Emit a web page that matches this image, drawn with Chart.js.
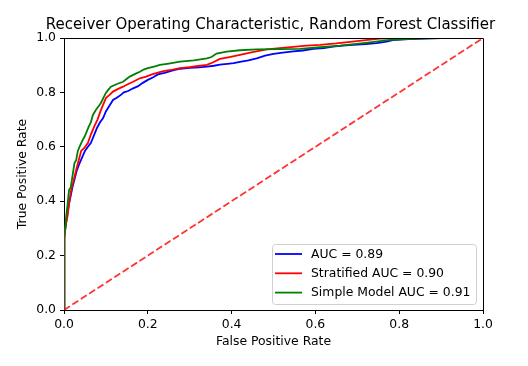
<!DOCTYPE html>
<html lang="en">
<head>
    <meta charset="UTF-8">
    <title>ROC - Random Forest Classifier</title>
    <script src="https://cdn.jsdelivr.net/npm/chart.js"></script>
    <style>
        body { margin: 0; background: #fff; }
        #wrap { width: 528px; height: 366px; }
    </style>
</head>
<body>
    <div id="wrap"><canvas id="rocChart" width="528" height="366"></canvas></div>

    <script>
        // ROC curve points (false positive rate / true positive rate)
        const baseFpr = [0, 0, 0.002, 0.004, 0.006, 0.009, 0.012, 0.016, 0.020, 0.025, 0.030, 0.036, 0.043, 0.050, 0.057, 0.064, 0.071, 0.079, 0.086, 0.093, 0.100, 0.108, 0.117, 0.126, 0.135, 0.143, 0.153, 0.165, 0.177, 0.188, 0.200, 0.212, 0.224, 0.240, 0.258, 0.277, 0.300, 0.322, 0.341, 0.358, 0.372, 0.390, 0.405, 0.420, 0.440, 0.460, 0.480, 0.500, 0.522, 0.547, 0.570, 0.595, 0.620, 0.642, 0.665, 0.690, 0.720, 0.746, 0.770, 0.785, 0.810, 0.840, 0.870, 0.900, 0.950, 1.0];
        const baseTpr = [0, 0.13, 0.27, 0.31, 0.33, 0.36, 0.39, 0.42, 0.45, 0.48, 0.51, 0.535, 0.56, 0.585, 0.60, 0.614, 0.64, 0.67, 0.69, 0.705, 0.73, 0.75, 0.772, 0.78, 0.79, 0.80, 0.805, 0.815, 0.823, 0.835, 0.846, 0.855, 0.866, 0.872, 0.88, 0.887, 0.89, 0.892, 0.895, 0.898, 0.902, 0.905, 0.908, 0.912, 0.918, 0.925, 0.935, 0.942, 0.946, 0.951, 0.954, 0.96, 0.963, 0.968, 0.972, 0.975, 0.978, 0.981, 0.987, 0.992, 0.995, 0.997, 0.999, 1.0, 1.0, 1.0];

        const stratFpr = [0, 0.001, 0.003, 0.005, 0.008, 0.012, 0.017, 0.022, 0.029, 0.035, 0.041, 0.048, 0.057, 0.064, 0.072, 0.080, 0.088, 0.094, 0.100, 0.108, 0.117, 0.128, 0.141, 0.152, 0.165, 0.181, 0.196, 0.210, 0.224, 0.240, 0.260, 0.277, 0.300, 0.320, 0.341, 0.355, 0.372, 0.395, 0.420, 0.450, 0.484, 0.515, 0.547, 0.579, 0.611, 0.650, 0.683, 0.720, 0.754, 0.800, 1.0];
        const stratTpr = [0, 0.26, 0.30, 0.32, 0.342, 0.39, 0.44, 0.47, 0.515, 0.55, 0.585, 0.595, 0.614, 0.645, 0.674, 0.70, 0.735, 0.757, 0.779, 0.79, 0.803, 0.812, 0.821, 0.83, 0.839, 0.852, 0.858, 0.866, 0.873, 0.879, 0.884, 0.889, 0.893, 0.897, 0.901, 0.91, 0.923, 0.93, 0.938, 0.948, 0.958, 0.963, 0.967, 0.972, 0.975, 0.98, 0.986, 0.992, 0.998, 1.0, 1.0];

        const simpleFpr = [0, 0, 0.003, 0.005, 0.008, 0.012, 0.016, 0.021, 0.025, 0.029, 0.033, 0.037, 0.043, 0.049, 0.054, 0.059, 0.064, 0.069, 0.076, 0.083, 0.088, 0.094, 0.100, 0.106, 0.112, 0.125, 0.141, 0.150, 0.157, 0.170, 0.181, 0.190, 0.200, 0.215, 0.229, 0.250, 0.277, 0.310, 0.341, 0.352, 0.364, 0.388, 0.420, 0.460, 0.516, 0.563, 0.611, 0.659, 0.720, 0.778, 0.850, 0.900, 1.0];
        const simpleTpr = [0, 0.27, 0.30, 0.342, 0.38, 0.441, 0.45, 0.50, 0.54, 0.551, 0.585, 0.60, 0.62, 0.637, 0.655, 0.674, 0.69, 0.717, 0.735, 0.75, 0.761, 0.78, 0.798, 0.81, 0.821, 0.83, 0.839, 0.85, 0.858, 0.868, 0.876, 0.884, 0.889, 0.895, 0.901, 0.906, 0.913, 0.918, 0.925, 0.93, 0.943, 0.95, 0.955, 0.958, 0.959, 0.960, 0.966, 0.972, 0.982, 0.993, 0.998, 1.0, 1.0];

        const chanceFpr = [0, 1];
        const chanceTpr = [0, 1];

        const seriesLabels = ['AUC = 0.89', 'Stratified AUC = 0.90', 'Simple Model AUC = 0.91'];
        const axisTicks = [0, 0.2, 0.4, 0.6, 0.8, 1.0];

        const toPoints = (xs, ys) => xs.map((x, i) => ({ x: x, y: ys[i] }));
        const fontFamily = '"DejaVu Sans", sans-serif';
        const textSize = 12.4;

        // top/right spines + title + legend box in the lower right
        const extras = {
            id: 'extras',
            afterDraw(chart) {
                const { ctx, chartArea: a } = chart;
                ctx.save();
                ctx.strokeStyle = '#000';
                ctx.lineWidth = 1;
                ctx.beginPath();
                ctx.moveTo(Math.round(a.left) + 0.5, Math.round(a.top) + 0.5);
                ctx.lineTo(Math.round(a.right) + 0.5, Math.round(a.top) + 0.5);
                ctx.lineTo(Math.round(a.right) + 0.5, Math.round(a.bottom) + 0.5);
                ctx.stroke();

                ctx.fillStyle = '#000';
                ctx.font = '15px ' + fontFamily;
                ctx.textAlign = 'center';
                ctx.textBaseline = 'alphabetic';
                ctx.fillText('Receiver Operating Characteristic, Random Forest Classifier', (a.left + a.right) / 2 - 3, 29);

                const items = chart.data.datasets.filter(d => d.label);
                const bx = 272, by = 244, bw = 204, bh = 60;
                ctx.beginPath();
                ctx.roundRect(bx + 0.5, by + 0.5, bw, bh, 3);
                ctx.fillStyle = 'rgba(255,255,255,0.8)';
                ctx.fill();
                ctx.strokeStyle = '#d0d0d0';
                ctx.stroke();

                ctx.font = textSize + 'px ' + fontFamily;
                ctx.textAlign = 'left';
                ctx.textBaseline = 'middle';
                items.forEach((d, i) => {
                    const y = 254 + i * 19.3;
                    ctx.strokeStyle = d.borderColor;
                    ctx.lineWidth = 1.8;
                    ctx.beginPath();
                    ctx.moveTo(275, y);
                    ctx.lineTo(302, y);
                    ctx.stroke();
                    ctx.fillStyle = '#000';
                    ctx.fillText(d.label, 311, y + 0.5);
                });
                ctx.restore();
            }
        };

        const lineSet = (label, xs, ys, color, order) => ({
            label: label,
            data: toPoints(xs, ys),
            showLine: true,
            borderColor: color,
            borderWidth: 1.8,
            pointRadius: 0,
            tension: 0,
            fill: false,
            order: order
        });

        const axisCommon = (titleText) => ({
            type: 'linear',
            min: 0,
            max: 1,
            afterBuildTicks: s => { s.ticks = axisTicks.map(v => ({ value: v })); },
            ticks: {
                color: '#000',
                font: { family: fontFamily, size: textSize },
                callback: v => Number(v).toFixed(1)
            },
            grid: { drawOnChartArea: false, drawTicks: true, tickLength: 4, color: '#000' },
            border: { display: true, color: '#000' },
            title: { display: true, text: titleText, color: '#000', font: { family: fontFamily, size: textSize } }
        });

        const xAxis = axisCommon('False Positive Rate');
        xAxis.ticks.padding = 3;
        xAxis.title.padding = { top: 0, bottom: 17 };
        xAxis.afterFit = s => { s.height = 56; };

        const yAxis = axisCommon('True Positive Rate');
        yAxis.ticks.padding = 4;
        yAxis.title.padding = { top: 15, bottom: 0 };
        yAxis.afterFit = s => { s.width = 64; };

        new Chart(document.getElementById('rocChart'), {
            type: 'scatter',
            data: {
                datasets: [
                    lineSet(seriesLabels[0], baseFpr, baseTpr, '#0000ff', 3),
                    lineSet(seriesLabels[1], stratFpr, stratTpr, '#ff0000', 2),
                    lineSet(seriesLabels[2], simpleFpr, simpleTpr, '#008000', 1),
                    Object.assign(lineSet('', chanceFpr, chanceTpr, 'rgba(255,0,0,0.8)', 0), { borderDash: [7, 3] })
                ]
            },
            options: {
                responsive: false,
                animation: false,
                layout: { padding: { top: 38, right: 45, left: 0, bottom: 0 } },
                plugins: {
                    legend: { display: false },
                    title: { display: false },
                    tooltip: { enabled: false }
                },
                scales: { x: xAxis, y: yAxis }
            },
            plugins: [extras]
        });
    </script>
</body>
</html>
